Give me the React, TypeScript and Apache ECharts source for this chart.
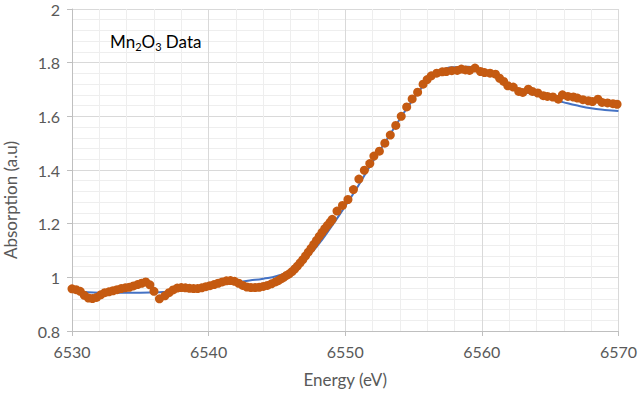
import React, { useEffect, useRef } from "react";
import * as echarts from "echarts";

const dataEnergy: number[] = [
  6530.0, 6530.3, 6530.6, 6530.9, 6531.2, 6531.5, 6531.8, 6532.1, 6532.4, 6532.7,
  6533.0, 6533.3, 6533.6, 6533.9, 6534.2, 6534.5, 6534.8, 6535.1, 6535.4, 6535.7,
  6536.0, 6536.4, 6536.8, 6537.1, 6537.4, 6537.7, 6538.0, 6538.3, 6538.6, 6538.9,
  6539.2, 6539.5, 6539.8, 6540.1, 6540.4, 6540.7, 6541.0, 6541.3, 6541.6, 6541.9,
  6542.2, 6542.5, 6542.8, 6543.1, 6543.4, 6543.7, 6544.0, 6544.3, 6544.6, 6544.9,
  6545.1, 6545.3, 6545.5, 6545.7, 6545.9, 6546.1, 6546.3, 6546.5, 6546.7, 6546.9,
  6547.1, 6547.3, 6547.5, 6547.7, 6547.9, 6548.1, 6548.3, 6548.5, 6548.7, 6548.9,
  6549.05, 6549.4, 6549.8, 6550.2, 6550.6, 6551.0, 6551.4, 6551.8, 6552.1, 6552.5,
  6552.9, 6553.3, 6553.7, 6554.1, 6554.5, 6554.9, 6555.3, 6555.7, 6556.0, 6556.3,
  6556.7, 6557.1, 6557.4, 6557.8, 6558.2, 6558.5, 6558.8, 6559.1, 6559.5, 6559.9,
  6560.2, 6560.6, 6561.0, 6561.3, 6561.6, 6561.9, 6562.3, 6562.7, 6563.0, 6563.4,
  6563.7, 6564.1, 6564.5, 6564.8, 6565.2, 6565.6, 6565.9, 6566.3, 6566.7, 6567.0,
  6567.4, 6567.8, 6568.1, 6568.5, 6568.8, 6569.2, 6569.6, 6569.9,
];

const dataAbsorption: number[] = [
  0.957, 0.954, 0.948, 0.933, 0.923, 0.921, 0.925, 0.935, 0.943, 0.946,
  0.95, 0.954, 0.958, 0.961, 0.963, 0.968, 0.973, 0.978, 0.983, 0.972,
  0.948, 0.92, 0.931, 0.943, 0.953, 0.96, 0.962, 0.961, 0.959, 0.958,
  0.958, 0.961, 0.965, 0.969, 0.973, 0.978, 0.983, 0.987, 0.988, 0.985,
  0.978, 0.97, 0.964, 0.962, 0.962, 0.963, 0.966, 0.97, 0.976, 0.983,
  0.988, 0.994, 1.0, 1.007, 1.013, 1.021, 1.031, 1.042, 1.054, 1.066,
  1.08, 1.094, 1.108, 1.123, 1.138, 1.153, 1.167, 1.181, 1.194, 1.206,
  1.216, 1.247, 1.268, 1.29, 1.327, 1.366, 1.399, 1.424, 1.452, 1.47,
  1.5, 1.53, 1.566, 1.6, 1.635, 1.665, 1.69, 1.72, 1.737, 1.751,
  1.761, 1.766, 1.767, 1.77, 1.771, 1.776, 1.773, 1.771, 1.78, 1.767,
  1.763, 1.761, 1.757, 1.742, 1.73, 1.714, 1.709, 1.693, 1.689, 1.701,
  1.693, 1.687, 1.677, 1.674, 1.672, 1.664, 1.68, 1.674, 1.672, 1.668,
  1.662, 1.658, 1.655, 1.664, 1.652, 1.65, 1.647, 1.645,
];

const fitEnergy: number[] = [
  6530, 6531, 6532, 6533, 6534, 6535, 6536, 6537, 6538, 6539, 6540, 6541, 6542, 6543,
  6544, 6545, 6546, 6547, 6548, 6549, 6550, 6551, 6552, 6553, 6554, 6555, 6556, 6557,
  6558, 6559, 6560, 6561, 6562, 6563, 6564, 6565, 6566, 6567, 6568, 6569, 6570,
];

const fitAbsorption: number[] = [
  0.95, 0.945, 0.943, 0.943, 0.943, 0.943, 0.944, 0.946, 0.952, 0.958, 0.966, 0.974, 0.981, 0.988,
  0.995, 1.005, 1.025, 1.065, 1.12, 1.19, 1.265, 1.345, 1.43, 1.51, 1.59, 1.665, 1.73, 1.77,
  1.783, 1.785, 1.775, 1.75, 1.72, 1.695, 1.678, 1.665, 1.652, 1.64, 1.63, 1.624, 1.62,
];

const xTitle = "Energy (eV)";
const yTitle = "Absorption (a.u)";

const FONT = "Lato, 'Open Sans', sans-serif";
const LABEL_COLOR = "#595959";

export default function App() {
  const ref = useRef<HTMLDivElement>(null);

  useEffect(() => {
    if (!ref.current) return;
    const chart = echarts.init(ref.current, undefined, { renderer: "svg" });
    const measured = dataEnergy.map((e, i) => [e, dataAbsorption[i]]);
    const fit = fitEnergy.map((e, i) => [e, fitAbsorption[i]]);

    chart.setOption({
      animation: false,
      backgroundColor: "#ffffff",
      textStyle: { fontFamily: FONT },
      grid: { left: 72, right: 19, top: 9, bottom: 61, containLabel: false },
      xAxis: {
        type: "value",
        min: 6530,
        max: 6570,
        interval: 10,
        name: xTitle,
        nameLocation: "middle",
        nameGap: 40,
        nameTextStyle: { color: LABEL_COLOR, fontSize: 17, fontFamily: FONT },
        axisLine: { show: true, lineStyle: { color: "#bfbfbf", width: 1 } },
        axisTick: { show: true, inside: false, length: 5, lineStyle: { color: "#bfbfbf" } },
        axisLabel: {
          color: LABEL_COLOR,
          fontSize: 16,
          margin: 12,
          fontFamily: FONT,
          formatter: (v: number) => String(v),
        },
        splitLine: { show: true, lineStyle: { color: "#d9d9d9", width: 1 } },
        minorTick: { show: false, splitNumber: 5 },
        minorSplitLine: { show: true, lineStyle: { color: "#eeeeee", width: 1 } },
      },
      yAxis: {
        type: "value",
        min: 0.8,
        max: 2,
        interval: 0.2,
        axisLine: { show: true, lineStyle: { color: "#bfbfbf", width: 1 } },
        axisTick: { show: true, inside: false, length: 5, lineStyle: { color: "#bfbfbf" } },
        axisLabel: { color: LABEL_COLOR, fontSize: 16, margin: 12, fontFamily: FONT },
        splitLine: { show: true, lineStyle: { color: "#d9d9d9", width: 1 } },
        minorTick: { show: false, splitNumber: 5 },
        minorSplitLine: { show: true, lineStyle: { color: "#eeeeee", width: 1 } },
      },
      series: [
        {
          name: "Fit",
          type: "line",
          data: fit,
          smooth: true,
          showSymbol: false,
          lineStyle: { color: "#4472c4", width: 2 },
          z: 2,
        },
        {
          name: "Mn2O3 Data",
          type: "scatter",
          data: measured,
          symbol: "circle",
          symbolSize: 9,
          itemStyle: { color: "#c55a11", opacity: 1 },
          z: 3,
        },
      ],
      graphic: [
        {
          type: "text",
          left: 110,
          top: 33,
          z: 10,
          style: {
            text: "{m|Mn}{s|2}{m|O}{s|3}{m| Data}",
            fill: "#000000",
            rich: {
              m: { fontSize: 17, fontFamily: FONT, fill: "#000000", lineHeight: 21, verticalAlign: "middle" },
              s: { fontSize: 11, fontFamily: FONT, fill: "#000000", lineHeight: 11, verticalAlign: "bottom" },
            },
          },
        },
        {
          type: "text",
          x: 10,
          y: 200,
          rotation: Math.PI / 2,
          z: 10,
          style: {
            text: yTitle,
            fill: LABEL_COLOR,
            fontSize: 17,
            fontFamily: FONT,
            align: "center",
            verticalAlign: "middle",
          },
        },
      ],
    });

    return () => chart.dispose();
  }, []);

  return (
    <div
      ref={ref}
      style={{ position: "fixed", left: 0, top: 0, width: 640, height: 393 }}
    />
  );
}
